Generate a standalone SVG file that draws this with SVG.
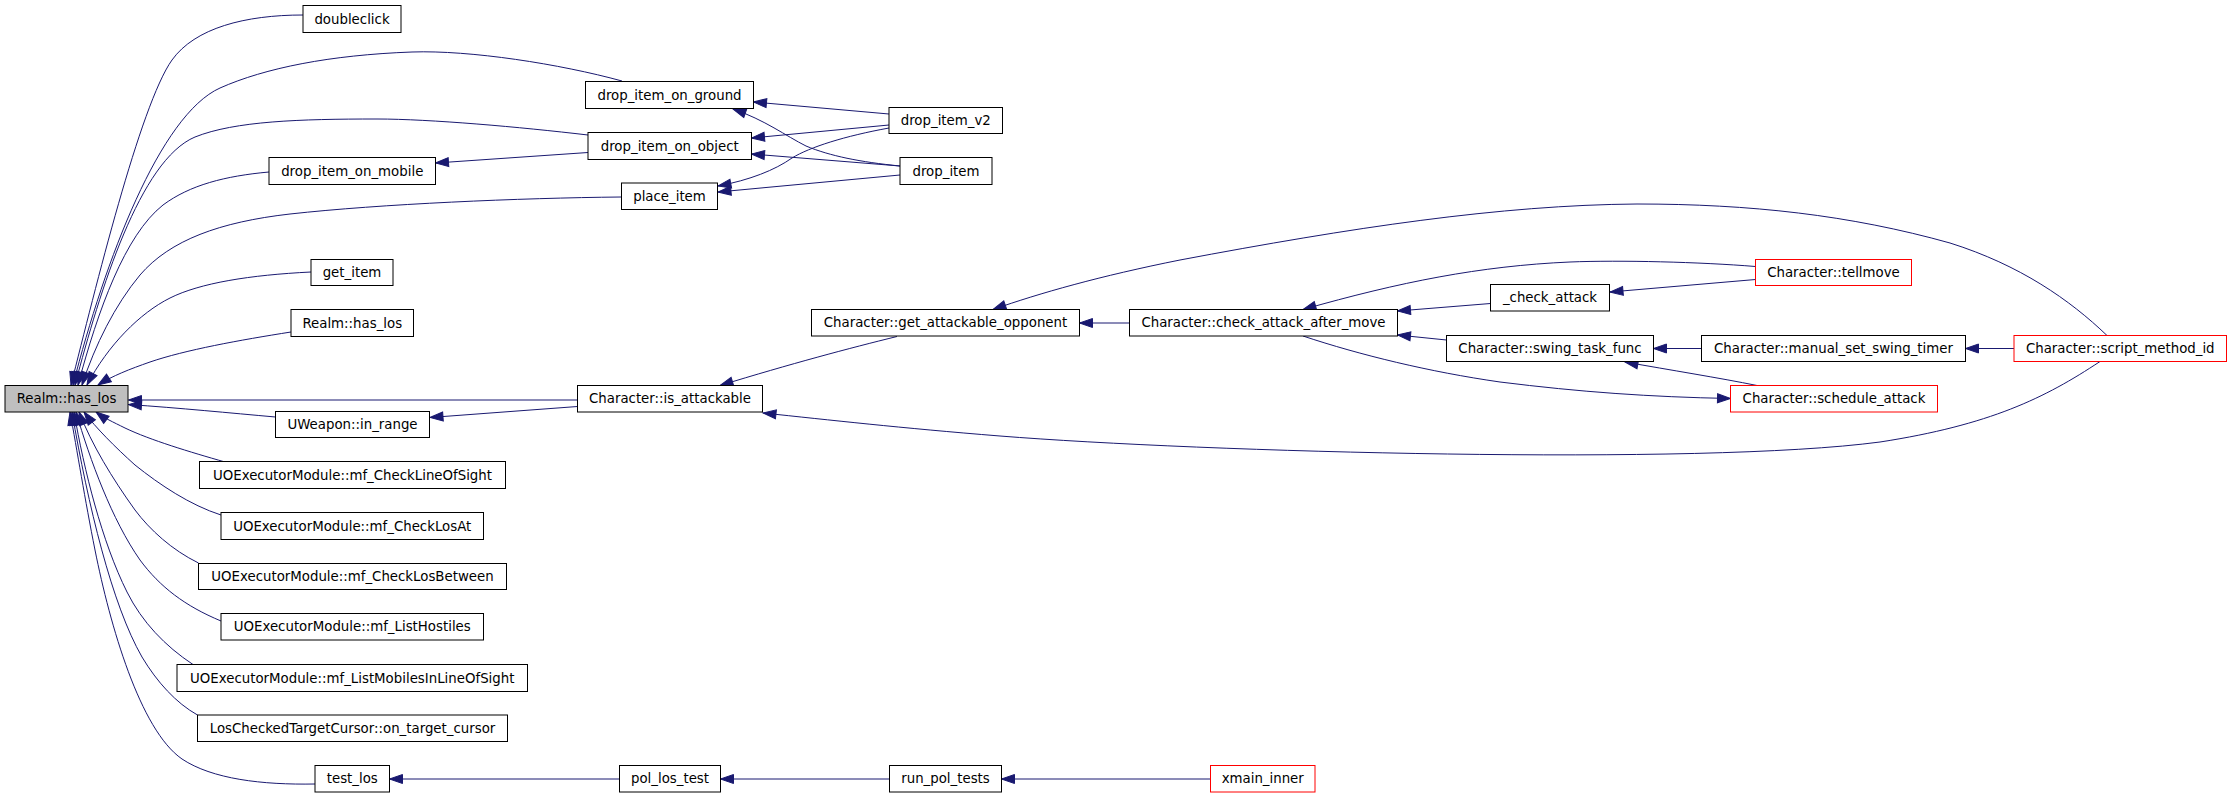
<svg xmlns="http://www.w3.org/2000/svg" width="2232" height="797" viewBox="0 0 2232 797">
<style>
.n rect{fill:#ffffff;stroke:#000000;stroke-width:1}
.n.main rect{fill:#bfbfbf}
.n.red rect{stroke:#ff0000}
.n text{font-family:"DejaVu Sans","Liberation Sans",sans-serif;font-size:13.33px;fill:#000000;text-anchor:middle}
.e path{fill:none;stroke:#191970;stroke-width:1;marker-end:url(#ah)}
</style>
<defs>
<marker id="ah" markerUnits="userSpaceOnUse" markerWidth="15" markerHeight="11" refX="13" refY="5" orient="auto" overflow="visible">
<path d="M0,0.5 L13,5 L0,9.5 z" fill="#191970" stroke="#191970" stroke-width="1"/>
</marker>
</defs>
<rect width="2232" height="797" fill="#ffffff"/>
<g id="edges" class="e">
<path d="M303,15 C245,15 195,28 172,60 C140,105 95,290 71,385"/>
<path d="M622,81 C560,64 470,50 412,52 C330,55 265,68 220,88 C160,115 105,260 73,385"/>
<path d="M588,135 C520,127 430,119 377,119 C300,119 235,121 195,137 C140,160 100,290 75,385"/>
<path d="M269,172 C225,176 190,185 163,205 C125,235 98,310 78,385"/>
<path d="M621,197 C520,198 380,204 290,214 C220,222 170,240 140,275 C115,305 95,345 82,385"/>
<path d="M311,272 C250,275 200,283 170,298 C140,313 108,345 87,385"/>
<path d="M291,332 C240,340 185,350 150,362 C130,369 112,376 98,385"/>
<path d="M577.5,400 L128.5,400"/>
<path d="M275.5,417 C230,413 180,408 128.5,404.5"/>
<path d="M225,462 C190,452 150,440 125,428 C113,422 104,418 96,412"/>
<path d="M221,515 C190,505 160,485 135,465 C115,447 96,428 84,412"/>
<path d="M198.5,563 C172,550 150,530 135,510 C112,478 92,445 79,412"/>
<path d="M221,621 C185,606 160,587 140,560 C112,520 90,460 76,412"/>
<path d="M193,664.5 C165,646 142,622 127,592 C102,542 84,470 74,412"/>
<path d="M197.5,715 C176,703 157,682 142,657 C112,605 88,505 72,412"/>
<path d="M315,784 C262,785 212,779 182,759 C140,730 110,625 95,550 C85,500 77,450 70,412"/>
<path d="M588,152.5 L435.5,163"/>
<path d="M889,114 L753.5,102"/>
<path d="M889,125 L751.5,138"/>
<path d="M889,128 C845,136 810,147 792,158 C775,170 750,180 718,186"/>
<path d="M900,166 C860,162 830,156 806,146 C786,136 765,120 733,109"/>
<path d="M900,166 L751.5,154"/>
<path d="M900,175 L718,192"/>
<path d="M577.5,406.5 L430,417.5"/>
<path d="M897,336.5 C850,348 790,364 720,385.5"/>
<path d="M2100,361.5 C2045,398 1990,425 1880,442 C1700,466 1200,452 1000,436 C900,428 830,420 763,413"/>
<path d="M1129.5,323 L1079.5,323"/>
<path d="M2107,335.5 C2070,300 2020,265 1950,243 C1850,215 1750,204 1637,204 C1500,205 1350,228 1180,260 C1100,276 1040,293 993,309.5"/>
<path d="M1755.5,266.5 C1700,262 1620,260 1570,262 C1480,266 1400,282 1303,309.5"/>
<path d="M1755.5,279.5 L1610,292"/>
<path d="M1490.5,303.5 L1397.5,311"/>
<path d="M1446.5,340 L1397.5,335"/>
<path d="M1303,336 C1360,355 1430,372 1500,382 C1580,392 1650,397 1730.5,398.5"/>
<path d="M1757,385.5 C1720,378 1670,370 1625,362"/>
<path d="M1701.5,348.5 L1653.5,348.5"/>
<path d="M2014,348.5 L1965.5,348.5"/>
<path d="M619.5,779 L389.5,779"/>
<path d="M889.5,779 L720.5,779"/>
<path d="M1210.5,779 L1001.5,779"/>
</g>
<g id="n_has_los_main" class="n main"><rect x="5" y="385.5" width="123" height="26.5"/><text x="66.5" y="403.4">Realm::has_los</text></g>
<g id="n_doubleclick" class="n"><rect x="303" y="5.5" width="98" height="27"/><text x="352" y="23.7">doubleclick</text></g>
<g id="n_drop_item_on_ground" class="n"><rect x="585.5" y="81.5" width="168" height="27"/><text x="669.5" y="99.7">drop_item_on_ground</text></g>
<g id="n_drop_item_on_object" class="n"><rect x="588" y="132.5" width="163.5" height="27"/><text x="669.75" y="150.7">drop_item_on_object</text></g>
<g id="n_drop_item_on_mobile" class="n"><rect x="269" y="157.5" width="166.5" height="27"/><text x="352.25" y="175.7">drop_item_on_mobile</text></g>
<g id="n_place_item" class="n"><rect x="621.5" y="183" width="96" height="26.5"/><text x="669.5" y="201">place_item</text></g>
<g id="n_drop_item_v2" class="n"><rect x="889" y="107.5" width="113.5" height="26"/><text x="945.75" y="125.2">drop_item_v2</text></g>
<g id="n_drop_item" class="n"><rect x="900" y="157.5" width="92" height="27"/><text x="946" y="175.7">drop_item</text></g>
<g id="n_get_item" class="n"><rect x="311" y="259.5" width="82" height="26"/><text x="352" y="277.2">get_item</text></g>
<g id="n_has_los_2" class="n"><rect x="291" y="309.5" width="122.5" height="27"/><text x="352.25" y="327.7">Realm::has_los</text></g>
<g id="n_is_attackable" class="n"><rect x="577.5" y="385.5" width="185" height="26.5"/><text x="670" y="403.4">Character::is_attackable</text></g>
<g id="n_in_range" class="n"><rect x="275.5" y="411.5" width="154" height="26"/><text x="352.5" y="429.2">UWeapon::in_range</text></g>
<g id="n_mf_CheckLineOfSight" class="n"><rect x="199.5" y="461.5" width="306" height="27"/><text x="352.5" y="479.7">UOExecutorModule::mf_CheckLineOfSight</text></g>
<g id="n_mf_CheckLosAt" class="n"><rect x="221" y="512.5" width="262.5" height="27"/><text x="352.25" y="530.7">UOExecutorModule::mf_CheckLosAt</text></g>
<g id="n_mf_CheckLosBetween" class="n"><rect x="198.5" y="563.5" width="308" height="26"/><text x="352.5" y="581.2">UOExecutorModule::mf_CheckLosBetween</text></g>
<g id="n_mf_ListHostiles" class="n"><rect x="221" y="613.5" width="262.5" height="26.5"/><text x="352.25" y="631.4">UOExecutorModule::mf_ListHostiles</text></g>
<g id="n_mf_ListMobilesInLineOfSight" class="n"><rect x="177" y="664.5" width="350.5" height="27"/><text x="352.25" y="682.7">UOExecutorModule::mf_ListMobilesInLineOfSight</text></g>
<g id="n_on_target_cursor" class="n"><rect x="197.5" y="715" width="310" height="26.5"/><text x="352.5" y="732.9">LosCheckedTargetCursor::on_target_cursor</text></g>
<g id="n_test_los" class="n"><rect x="315" y="765.5" width="74.5" height="26.5"/><text x="352.25" y="783.4">test_los</text></g>
<g id="n_pol_los_test" class="n"><rect x="619.5" y="765.5" width="101" height="26.5"/><text x="670" y="783.4">pol_los_test</text></g>
<g id="n_run_pol_tests" class="n"><rect x="889.5" y="765.5" width="112" height="26.5"/><text x="945.5" y="783.4">run_pol_tests</text></g>
<g id="n_xmain_inner" class="n red"><rect x="1210.5" y="765.5" width="104.5" height="26.5"/><text x="1262.75" y="783.4">xmain_inner</text></g>
<g id="n_get_attackable_opponent" class="n"><rect x="811.5" y="309.5" width="268" height="26.5"/><text x="945.5" y="327.4">Character::get_attackable_opponent</text></g>
<g id="n_check_attack_after_move" class="n"><rect x="1129.5" y="309.5" width="268" height="26.5"/><text x="1263.5" y="327.4">Character::check_attack_after_move</text></g>
<g id="n_check_attack" class="n"><rect x="1490.5" y="284.5" width="119" height="26.5"/><text x="1550" y="302.4">_check_attack</text></g>
<g id="n_swing_task_func" class="n"><rect x="1446.5" y="335.5" width="207" height="26"/><text x="1550" y="353.2">Character::swing_task_func</text></g>
<g id="n_tellmove" class="n red"><rect x="1755.5" y="259.5" width="156" height="26"/><text x="1833.5" y="277.2">Character::tellmove</text></g>
<g id="n_manual_set_swing_timer" class="n"><rect x="1701.5" y="335.5" width="264" height="26"/><text x="1833.5" y="353.2">Character::manual_set_swing_timer</text></g>
<g id="n_schedule_attack" class="n red"><rect x="1730.5" y="385.5" width="207" height="26.5"/><text x="1834" y="403.4">Character::schedule_attack</text></g>
<g id="n_script_method_id" class="n red"><rect x="2014" y="335.5" width="212.5" height="26"/><text x="2120.25" y="353.2">Character::script_method_id</text></g>
</svg>
